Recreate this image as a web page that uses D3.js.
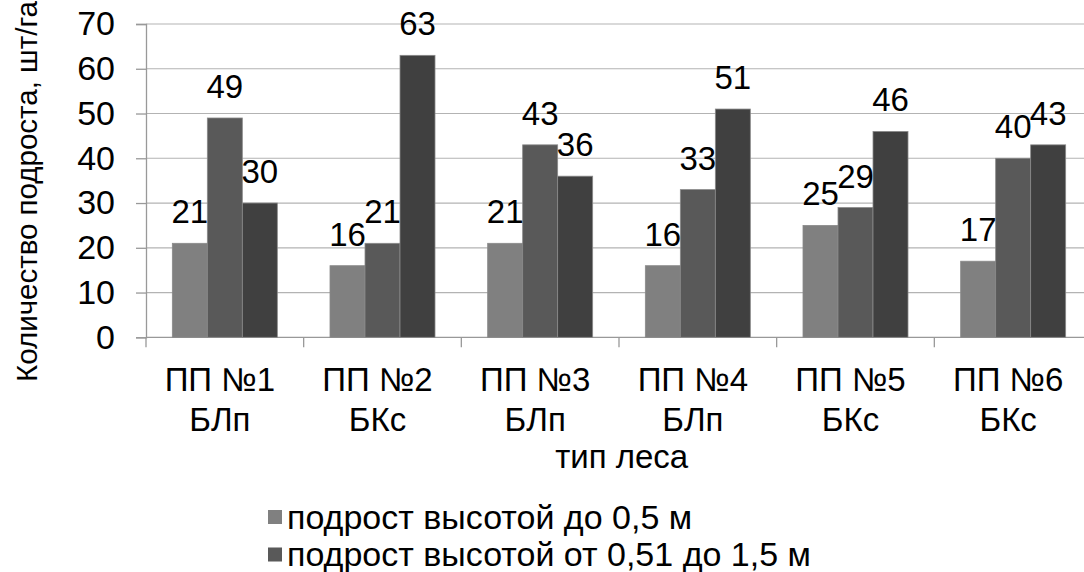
<!DOCTYPE html>
<html>
<head>
<meta charset="utf-8">
<script src="https://cdn.jsdelivr.net/npm/d3@7"></script>
<style>
  html, body { margin: 0; padding: 0; background: #fff; }
  svg { display: block; }
  text { font-family: "Liberation Sans", Arial, sans-serif; fill: #000; }
</style>
</head>
<body>
<svg id="chart" width="1084" height="572"></svg>
<script>
// Plot categories (two-line labels: plot number / forest type)
const categories = ["ПП №1|БЛп", "ПП №2|БКс", "ПП №3|БЛп", "ПП №4|БЛп", "ПП №5|БКс", "ПП №6|БКс"];
// Undergrowth counts, pcs/ha
const seriesSmall = [21, 16, 21, 16, 25, 17];
const seriesMedium = [49, 21, 43, 33, 29, 40];
const seriesLarge = [30, 63, 36, 51, 46, 43];
const seriesNames = [
  "подрост высотой до 0,5 м",
  "подрост высотой от 0,51 до 1,5 м"
];
const yTicks = [0, 10, 20, 30, 40, 50, 60, 70];

const colors = ["#808080", "#595959", "#404040"];
const allSeries = [seriesSmall, seriesMedium, seriesLarge];

const svg = d3.select("#chart");
const FONT = 33;

const plotLeft = 146, plotRight = 1092, plotTop = 24, plotBottom = 337.3;

const x = d3.scaleBand().domain(categories).range([plotLeft, plotRight]).paddingInner(0.334).paddingOuter(0.167);
const xs = d3.scaleBand().domain(d3.range(allSeries.length)).range([0, x.bandwidth()]);
const y = d3.scaleLinear().domain([0, 70]).range([plotBottom, plotTop]);

// horizontal gridlines
svg.append("g").selectAll("line").data(yTicks.slice(1)).join("line")
  .attr("x1", plotLeft).attr("x2", plotRight)
  .attr("y1", d => y(d)).attr("y2", d => y(d))
  .attr("stroke", "#b3b3b3").attr("stroke-width", 1.2);

// y axis
const yAxis = d3.axisLeft(y).tickValues(yTicks).tickSize(10).tickPadding(21).tickFormat(d3.format("d"));
const gy = svg.append("g").attr("transform", `translate(${plotLeft},0)`).call(yAxis);
gy.select(".domain").attr("stroke", "#999").attr("stroke-width", 1.3);
gy.selectAll(".tick line").attr("stroke", "#999").attr("stroke-width", 1.3);
gy.selectAll(".tick text").attr("font-size", 34).attr("fill", "#000")
  .attr("font-family", "Liberation Sans, Arial, sans-serif");

// x axis
const xAxisScale = d3.scalePoint().domain(d3.range(categories.length + 1)).range([plotLeft, plotRight]);
const gx = svg.append("g").attr("transform", `translate(0,${plotBottom})`);
gx.append("line").attr("x1", plotLeft).attr("x2", plotRight).attr("stroke", "#999").attr("stroke-width", 1.3);
gx.selectAll("line.tk").data(d3.range(categories.length + 1)).join("line").attr("class", "tk")
  .attr("x1", d => xAxisScale(d)).attr("x2", d => xAxisScale(d))
  .attr("y1", 0).attr("y2", 10).attr("stroke", "#999").attr("stroke-width", 1.3);

// bars
const groups = svg.append("g").selectAll("g").data(categories).join("g")
  .attr("transform", d => `translate(${x(d)},0)`);
groups.selectAll("rect").data((c, i) => allSeries.map((s, k) => ({k, v: s[i]}))).join("rect")
  .attr("x", d => xs(d.k)).attr("width", xs.bandwidth())
  .attr("y", d => y(d.v)).attr("height", d => y(0) - y(d.v))
  .attr("fill", d => colors[d.k]).attr("stroke", "#8a8a8a").attr("stroke-width", 0.8);

// value labels
groups.selectAll("text").data((c, i) => allSeries.map((s, k) => ({k, v: s[i]}))).join("text")
  .attr("x", d => xs(d.k) + xs.bandwidth() / 2)
  .attr("y", d => y(d.v) - 20)
  .attr("text-anchor", "middle").attr("font-size", FONT)
  .text(d => d.v);

// category labels
const cl = svg.append("g").selectAll("text").data(categories).join("text")
  .attr("text-anchor", "middle").attr("font-size", FONT)
  .attr("x", d => x(d) + x.bandwidth() / 2 - 5);
cl.each(function(d) {
  const parts = d.split("|");
  d3.select(this).selectAll("tspan").data(parts).join("tspan")
    .attr("x", d3.select(this).attr("x"))
    .attr("y", (p, j) => 390.7 + j * 40.3)
    .text(p => p);
});

// axis titles
svg.append("text").attr("x", 621.7).attr("y", 468)
  .attr("text-anchor", "middle").attr("font-size", FONT).text("тип леса");
svg.append("text")
  .attr("transform", `translate(36.5,191.5) rotate(-90)`)
  .attr("text-anchor", "middle").attr("font-size", 29.5).text("Количество подроста, шт/га");

// legend
const lg = svg.append("g").selectAll("g").data(seriesNames).join("g")
  .attr("transform", (d, i) => `translate(268,${517 + i * 37.5})`);
lg.append("rect").attr("x", 0).attr("y", -7).attr("width", 14).attr("height", 14)
  .attr("fill", (d, i) => colors[i]);
lg.append("text").attr("x", 19).attr("y", 0).attr("dy", "0.35em")
  .attr("font-size", 34).text(d => d);
</script>
</body>
</html>
